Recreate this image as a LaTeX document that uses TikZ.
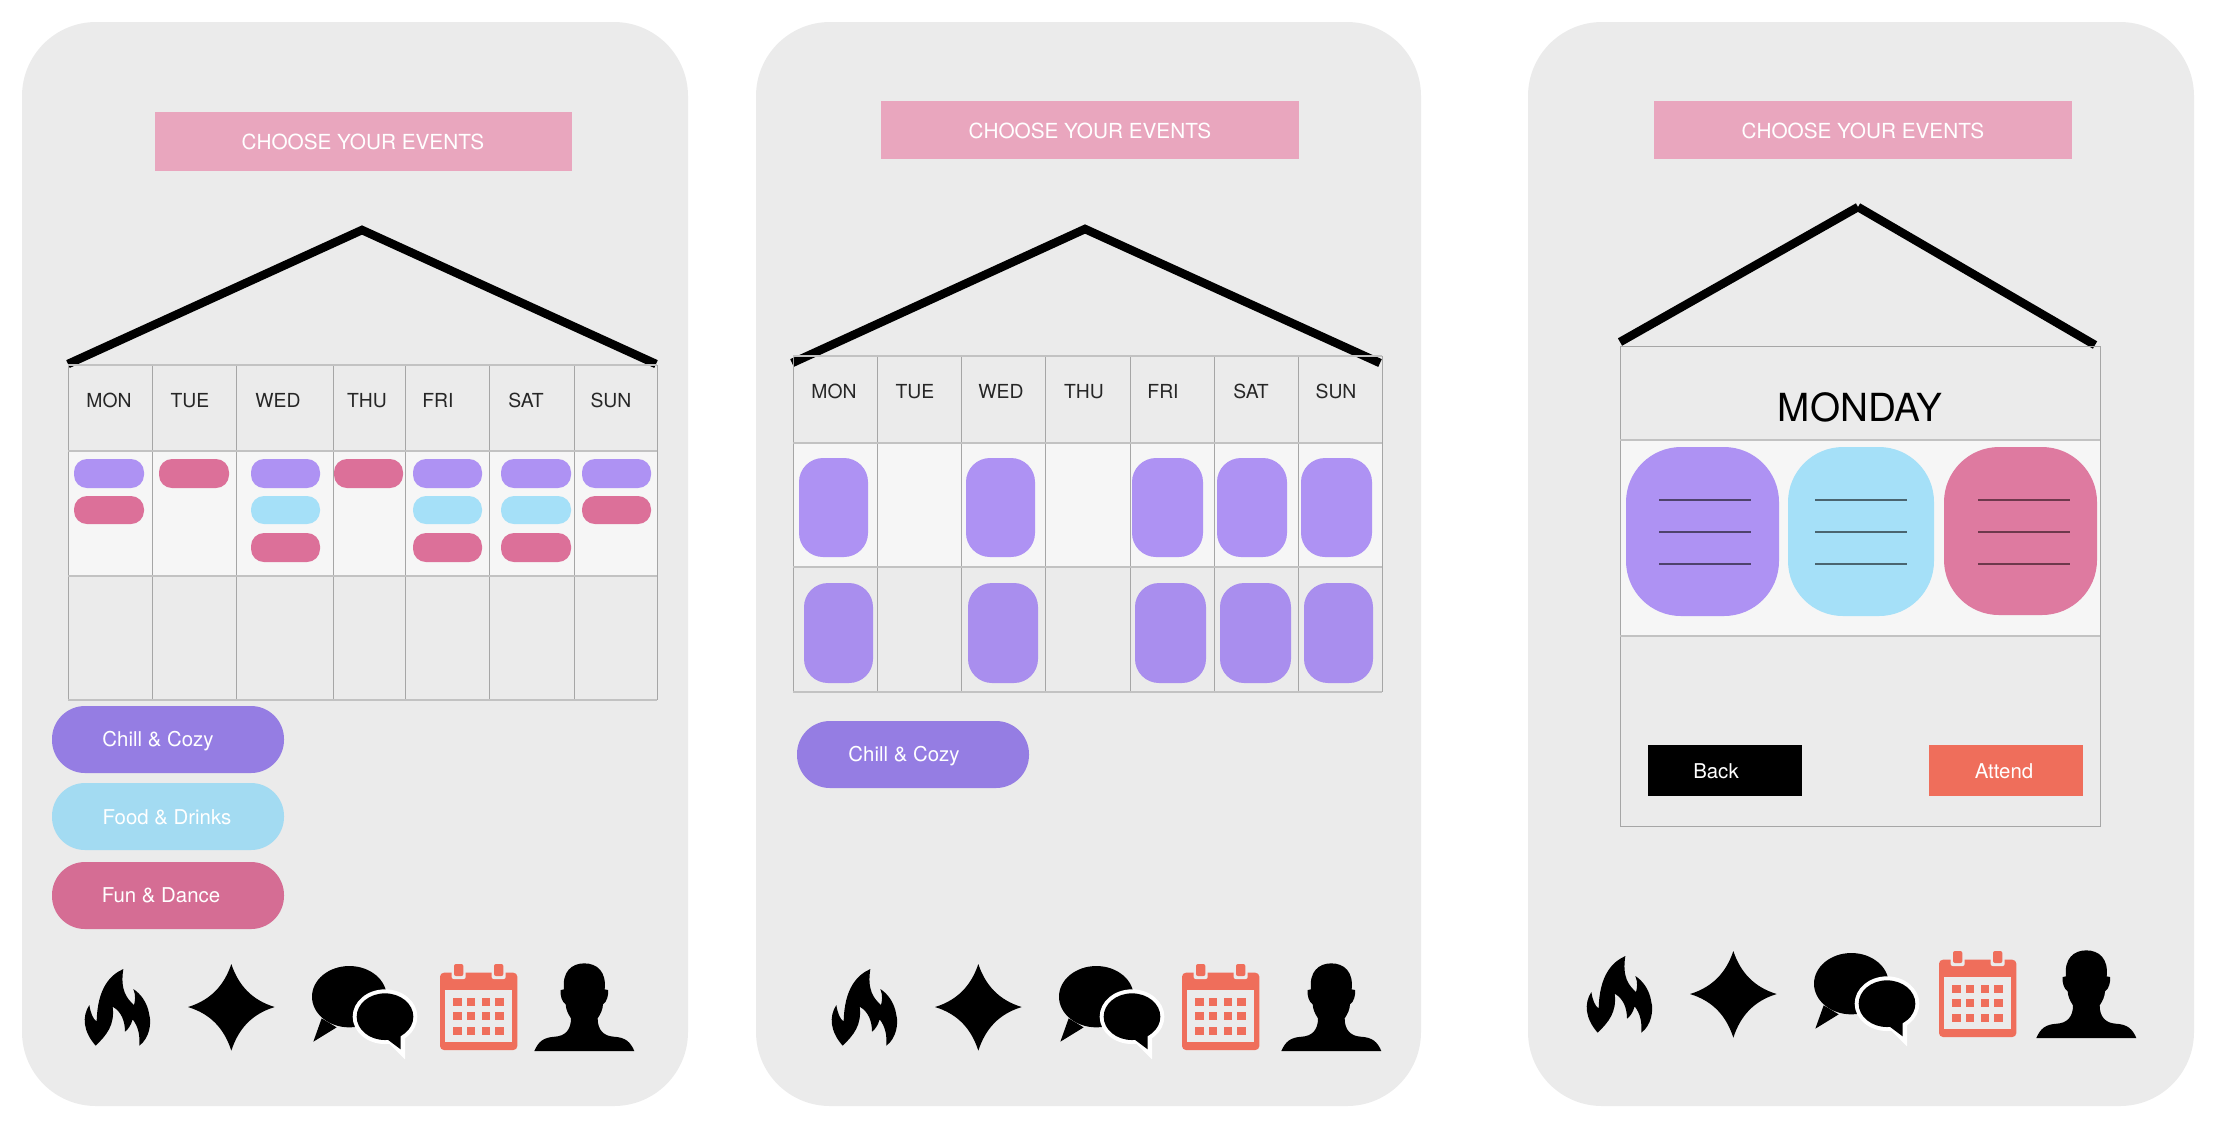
\documentclass[tikz,border=0pt]{standalone}
\usepackage{fontspec}
\setmainfont{TeX Gyre Heros}
\definecolor{panelgray}{HTML}{EBEBEB}
\definecolor{rowlight}{HTML}{F6F6F6}
\definecolor{gridgray}{HTML}{A6A6A6}
\definecolor{gridlight}{HTML}{C2C2C2}
\definecolor{bannerpink}{HTML}{E9A6BE}
\definecolor{chillpurple}{HTML}{AE92F3}
\definecolor{chilltile}{HTML}{A98EEE}
\definecolor{chilldark}{HTML}{957DE3}
\definecolor{foodblue}{HTML}{A5E0F8}
\definecolor{funpink}{HTML}{DC7099}
\definecolor{coral}{HTML}{EF6E5B}
\tikzset{
  panel/.style={fill=panelgray,rounded corners=0.74cm},
  banner/.style={fill=bannerpink},
  bannertext/.style={text=white,font=\fontsize{5.9}{7}\selectfont},
  gridline/.style={draw=gridgray,line width=0.009cm},
  rowline/.style={draw=gridlight,line width=0.012cm},
  roof/.style={line width=0.085cm,line join=miter},
  pill/.style={rounded corners=0.13cm},
  bigpill/.style={rounded corners=0.33cm},
  tile/.style={rounded corners=0.24cm},
  squircle/.style={rounded corners=0.55cm},
  daytext/.style={font=\fontsize{5.5}{7}\selectfont,text=black!85,text height=4pt,text depth=0pt},
  pilltext/.style={text=white,font=\fontsize{5.8}{7}\selectfont},
  flame/.pic={
    \fill[scale=1/3] (190,27) .. controls (150,45) and (112,85) .. (110,185)
      .. controls (98,175) and (92,160) .. (88,135)
      .. controls (65,170) and (70,215) .. (107,257)
      .. controls (140,225) and (165,195) .. (158,140)
      .. controls (185,155) and (195,185) .. (195,215)
      .. controls (205,208) and (213,195) .. (218,178)
      .. controls (235,200) and (240,225) .. (238,257)
      .. controls (268,235) and (275,190) .. (268,165)
      .. controls (262,125) and (240,100) .. (220,87)
      .. controls (228,105) and (225,125) .. (222,135)
      .. controls (200,115) and (180,90) .. (190,27) -- cycle;
  },
  sparkle/.pic={
    \fill[scale=1/3] (514,12) .. controls (535,75) and (575,120) .. (644,141)
      .. controls (575,162) and (535,207) .. (514,272)
      .. controls (493,207) and (453,162) .. (384,141)
      .. controls (453,120) and (493,75) .. (514,12) -- cycle;
  },
  chat/.pic={
    \begin{scope}[scale=1/3]
      \fill (148,140) ellipse [x radius=112, y radius=92];
      \fill (65,205) -- (40,275) -- (110,232) -- cycle;
      \fill[white] (255,200) ellipse [x radius=97, y radius=82];
      \fill[white] (262,275) -- (315,328) -- (315,255) -- cycle;
      \fill (255,200) ellipse [x radius=85, y radius=70];
      \fill (262,268) -- (302,298) -- (302,250) -- cycle;
    \end{scope}
  },
  calendar/.pic={
    \begin{scope}[scale=1/3]
      \fill[coral,rounded corners=0.04cm] (420,68) rectangle (652,300);
      \fill[panelgray] (436,120) rectangle (637,276);
      \foreach \ringx in {455,575}
        \fill[panelgray,rounded corners=0.02cm] (\ringx,60) rectangle ({\ringx+42},87);
      \foreach \ringx in {462,582}
        \fill[coral,rounded corners=0.02cm] (\ringx,42) rectangle ({\ringx+28},78);
      \foreach \cellx/\cellw in {459/26,501/24,546/24,586/26}
        \foreach \celly in {144,186,231}
          \fill[coral] (\cellx,\celly) rectangle ({\cellx+\cellw},{\celly+24});
    \end{scope}
  },
  person/.pic={
    \fill[scale=1/3] (703,303) .. controls (715,275) and (730,262) .. (765,260)
      .. controls (795,258) and (813,240) .. (813,205)
      .. controls (803,190) and (798,178) .. (797,163)
      .. controls (785,155) and (780,135) .. (782,120)
      -- (792,118) .. controls (786,65) and (815,40) .. (853,40)
      .. controls (891,40) and (920,65) .. (914,118)
      -- (924,120) .. controls (926,135) and (921,155) .. (909,163)
      .. controls (908,178) and (903,190) .. (893,205)
      .. controls (893,240) and (911,258) .. (941,260)
      .. controls (976,262) and (991,275) .. (1003,303) -- cycle;
  },
}
\begin{document}
\begin{tikzpicture}[x=0.01cm,y=-0.01cm]
  \useasboundingbox (0,0) rectangle (2224,1132);
  % phone bodies
  \fill[panel] (22,22) rectangle (688,1106);
  \fill[panel] (756,22) rectangle (1421,1106);
  \fill[panel] (1528,22) rectangle (2194,1106);
  % first phone: banner and roof
  \fill[banner] (155,112) rectangle (572,171);
  \node[bannertext] (titleA) at (363,142) {CHOOSE YOUR EVENTS};
  \draw[roof] (68,364) -- (362,230) -- (656,364);
  % first phone: calendar grid
  \fill[rowlight] (68,451) rectangle (657,576);
  \foreach \x in {68,152,236,333,405,489,574,657}
    \draw[gridline] (\x,365) -- (\x,700);
  \foreach \y in {365,451,576,700}
    \draw[rowline] (68,\y) -- (657,\y);
  \foreach \name/\x in {MON/109,TUE/190,WED/278,THU/367,FRI/438,SAT/526,SUN/611}
    \node[daytext] (dayA\name) at (\x,400) {\name};
  % first phone: small pills
  \foreach \a/\b in {74/144,251/320,413/482,501/571,582/651}
    \fill[pill,chillpurple] (\a,459) rectangle (\b,488);
  \foreach \a/\b in {251/320,413/482,501/571}
    \fill[pill,foodblue] (\a,496) rectangle (\b,524);
  \foreach \a/\b in {159/229,334/403}
    \fill[pill,funpink] (\a,459) rectangle (\b,488);
  \foreach \a/\b in {74/144,582/651}
    \fill[pill,funpink] (\a,496) rectangle (\b,524);
  \foreach \a/\b in {251/320,413/482,501/571}
    \fill[pill,funpink] (\a,533) rectangle (\b,562);
  % first phone: categories
  \fill[bigpill,chilldark] (52,706) rectangle (284,773);
  \fill[bigpill,foodblue!95!gray] (52,783) rectangle (284,850);
  \fill[bigpill,funpink!97!black] (52,862) rectangle (284,929);
  \node[pilltext] (chillA) at (158,741) {Chill \& Cozy};
  \node[pilltext] (food) at (167,817) {Food \& Drinks};
  \node[pilltext] (fun) at (161,895) {Fun \& Dance};
  % second phone: banner and roof
  \fill[banner] (881,101) rectangle (1299,159);
  \node[bannertext] (titleB) at (1090,131) {CHOOSE YOUR EVENTS};
  \draw[roof] (792,363) -- (1085,229) -- (1380,363);
  % second phone: calendar grid
  \fill[rowlight] (793,443) rectangle (1382,567);
  \foreach \x in {793,877,961,1045,1130,1214,1298,1382}
    \draw[gridline] (\x,356) -- (\x,692);
  \foreach \y in {356,443,567,692}
    \draw[rowline] (793,\y) -- (1382,\y);
  \foreach \name/\x in {MON/834,TUE/915,WED/1001,THU/1084,FRI/1163,SAT/1251,SUN/1336}
    \node[daytext] (dayB\name) at (\x,391) {\name};
  % second phone: tiles
  \foreach \a/\b in {799/868,966/1035,1132/1203,1217/1287,1301/1372}
    \fill[tile,chillpurple] (\a,458) rectangle (\b,557);
  \foreach \a/\b in {804/873,968/1038,1135/1206,1220/1291,1304/1373}
    \fill[tile,chilltile] (\a,583) rectangle (\b,683);
  \fill[bigpill,chilldark] (797,721) rectangle (1029,788);
  \node[pilltext] (chillB) at (904,756) {Chill \& Cozy};
  % third phone: banner and roof
  \fill[banner] (1654,101) rectangle (2072,159);
  \node[bannertext] (titleC) at (1863,131) {CHOOSE YOUR EVENTS};
  \draw[roof] (1620,342) -- (1858,207);
  \draw[roof] (1858,207) -- (2095,345);
  % third phone: day view
  \fill[rowlight] (1620,440) rectangle (2100,636);
  \draw[gridline] (1620,346) rectangle (2100,826);
  \draw[rowline] (1620,440) -- (2100,440);
  \draw[rowline] (1620,636) -- (2100,636);
  \node[font=\fontsize{11}{13}\selectfont] (dayname) at (1860,407) {MONDAY};
  \fill[squircle,chillpurple] (1626,447) rectangle (1779,616);
  \fill[squircle,foodblue] (1788,447) rectangle (1934,616);
  \fill[squircle,funpink!93!white] (1944,447) rectangle (2097,615);
  \foreach \y in {500,532,564} {
    \draw[line width=0.015cm,chillpurple!45!black] (1659,\y) -- (1751,\y);
    \draw[line width=0.015cm,foodblue!45!black] (1815,\y) -- (1907,\y);
    \draw[line width=0.015cm,funpink!50!black] (1978,\y) -- (2070,\y);
  }
  \fill[black] (1648,745) rectangle (1802,796);
  \fill[coral] (1929,745) rectangle (2083,796);
  \node[pilltext] (back) at (1716,771) {Back};
  \node[pilltext] (attend) at (2004,771) {Attend};
  % icon rows
  \foreach \dx/\cx/\dy in {0/0/0,747/742/0,1502/1499/-13} {
    \pic at ({60+\dx},{960+\dy}) {flame};
    \pic at ({60+\dx},{960+\dy}) {sparkle};
    \pic at ({300+\dx},{950+\dy}) {chat};
    \pic at ({300+\cx},{950+\dy}) {calendar};
    \pic at ({300+\dx},{950+\dy}) {person};
  }
\end{tikzpicture}
\end{document}
